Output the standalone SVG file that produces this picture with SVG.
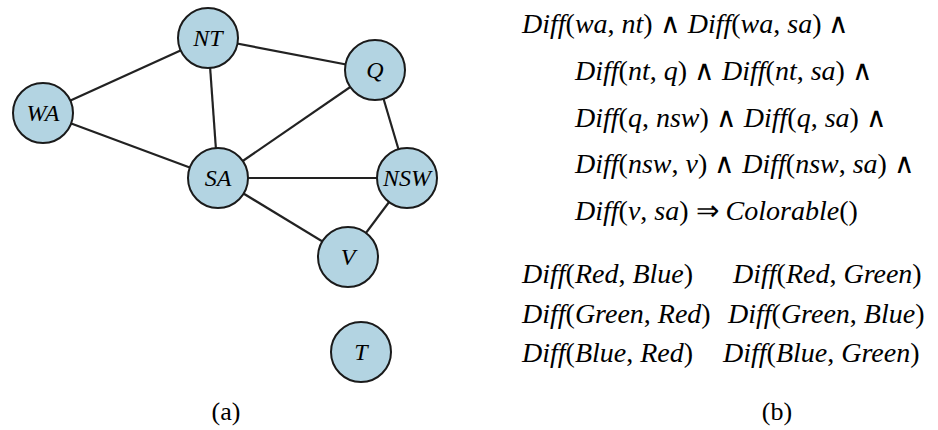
<svg xmlns="http://www.w3.org/2000/svg" width="938" height="430" viewBox="0 0 938 430">
<style>
.node circle{fill:#b3d4e2;stroke:#1a1a1a;stroke-width:2}
.edges line{stroke:#222;stroke-width:2.2}
</style>
<rect width="938" height="430" fill="#fff"/>
<g class="edges">
<line x1="43" y1="113" x2="208" y2="38"/>
<line x1="208" y1="38" x2="375" y2="70"/>
<line x1="208" y1="38" x2="218" y2="178"/>
<line x1="43" y1="113" x2="218" y2="178"/>
<line x1="218" y1="178" x2="375" y2="70"/>
<line x1="218" y1="178" x2="407" y2="178"/>
<line x1="218" y1="178" x2="348" y2="257"/>
<line x1="375" y1="70" x2="407" y2="178"/>
<line x1="407" y1="178" x2="348" y2="257"/>
</g>
<g id="NT" class="node"><circle cx="208" cy="38" r="30"/><text x="208" y="46" text-anchor="middle" font-family="Liberation Serif" font-style="italic" font-size="24">NT</text></g>
<g id="Q" class="node"><circle cx="375" cy="70" r="30"/><text x="375" y="78" text-anchor="middle" font-family="Liberation Serif" font-style="italic" font-size="24">Q</text></g>
<g id="WA" class="node"><circle cx="43" cy="113" r="30"/><text x="43" y="121" text-anchor="middle" font-family="Liberation Serif" font-style="italic" font-size="24">WA</text></g>
<g id="SA" class="node"><circle cx="218" cy="178" r="30"/><text x="218" y="186" text-anchor="middle" font-family="Liberation Serif" font-style="italic" font-size="24">SA</text></g>
<g id="NSW" class="node"><circle cx="407" cy="178" r="30"/><text x="407" y="186" text-anchor="middle" font-family="Liberation Serif" font-style="italic" font-size="24">NSW</text></g>
<g id="V" class="node"><circle cx="348" cy="257" r="30"/><text x="348" y="265" text-anchor="middle" font-family="Liberation Serif" font-style="italic" font-size="24">V</text></g>
<g id="T" class="node"><circle cx="361" cy="352" r="30"/><text x="361" y="360" text-anchor="middle" font-family="Liberation Serif" font-style="italic" font-size="24">T</text></g>
<text x="226" y="420" text-anchor="middle" font-family="Liberation Serif" font-size="26">(a)</text>
<text x="777" y="420" text-anchor="middle" font-family="Liberation Serif" font-size="26">(b)</text>
<g id="formula">
<text x="522" y="33" font-family="Liberation Serif" font-style="italic" font-size="28">Diff<tspan font-style="normal">(</tspan>wa<tspan font-style="normal">, </tspan>nt<tspan font-style="normal">) ∧ </tspan>Diff<tspan font-style="normal">(</tspan>wa<tspan font-style="normal">, </tspan>sa<tspan font-style="normal">) ∧</tspan></text>
<text x="575" y="80" font-family="Liberation Serif" font-style="italic" font-size="28">Diff<tspan font-style="normal">(</tspan>nt<tspan font-style="normal">, </tspan>q<tspan font-style="normal">) ∧ </tspan>Diff<tspan font-style="normal">(</tspan>nt<tspan font-style="normal">, </tspan>sa<tspan font-style="normal">) ∧</tspan></text>
<text x="575" y="127" font-family="Liberation Serif" font-style="italic" font-size="28">Diff<tspan font-style="normal">(</tspan>q<tspan font-style="normal">, </tspan>nsw<tspan font-style="normal">) ∧ </tspan>Diff<tspan font-style="normal">(</tspan>q<tspan font-style="normal">, </tspan>sa<tspan font-style="normal">) ∧</tspan></text>
<text x="575" y="173" font-family="Liberation Serif" font-style="italic" font-size="28">Diff<tspan font-style="normal">(</tspan>nsw<tspan font-style="normal">, </tspan>v<tspan font-style="normal">) ∧ </tspan>Diff<tspan font-style="normal">(</tspan>nsw<tspan font-style="normal">, </tspan>sa<tspan font-style="normal">) ∧</tspan></text>
<text x="575" y="220" font-family="Liberation Serif" font-style="italic" font-size="28">Diff<tspan font-style="normal">(</tspan>v<tspan font-style="normal">, </tspan>sa<tspan font-style="normal">)  ⇒  </tspan>Colorable<tspan font-style="normal">()</tspan></text>
<text x="522" y="283" font-family="Liberation Serif" font-style="italic" font-size="28">Diff<tspan font-style="normal">(</tspan>Red<tspan font-style="normal">, </tspan>Blue<tspan font-style="normal">)</tspan></text>
<text x="733" y="283" font-family="Liberation Serif" font-style="italic" font-size="28">Diff<tspan font-style="normal">(</tspan>Red<tspan font-style="normal">, </tspan>Green<tspan font-style="normal">)</tspan></text>
<text x="522" y="323" font-family="Liberation Serif" font-style="italic" font-size="28">Diff<tspan font-style="normal">(</tspan>Green<tspan font-style="normal">, </tspan>Red<tspan font-style="normal">)</tspan></text>
<text x="728" y="323" font-family="Liberation Serif" font-style="italic" font-size="28">Diff<tspan font-style="normal">(</tspan>Green<tspan font-style="normal">, </tspan>Blue<tspan font-style="normal">)</tspan></text>
<text x="522" y="362" font-family="Liberation Serif" font-style="italic" font-size="28">Diff<tspan font-style="normal">(</tspan>Blue<tspan font-style="normal">, </tspan>Red<tspan font-style="normal">)</tspan></text>
<text x="723" y="362" font-family="Liberation Serif" font-style="italic" font-size="28">Diff<tspan font-style="normal">(</tspan>Blue<tspan font-style="normal">, </tspan>Green<tspan font-style="normal">)</tspan></text>
</g>
</svg>
